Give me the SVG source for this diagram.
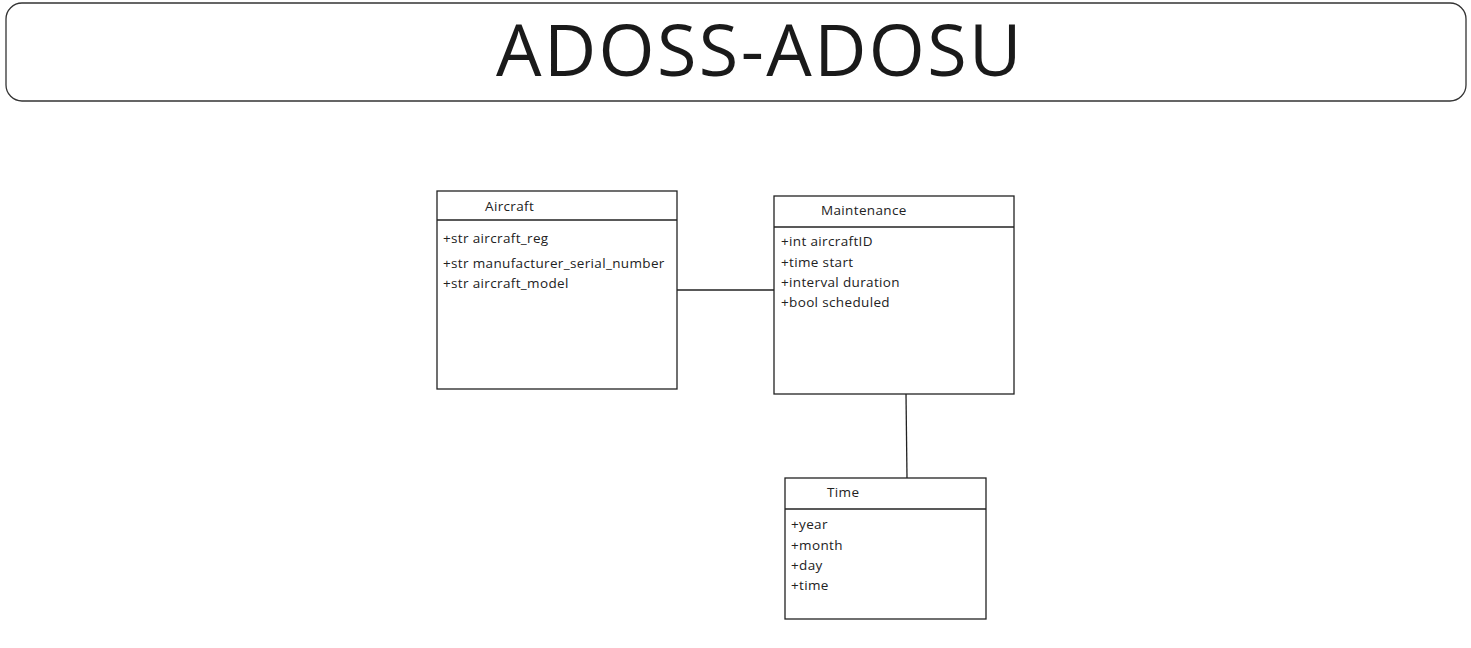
<svg xmlns="http://www.w3.org/2000/svg" width="1471" height="648" viewBox="0 0 1471 648">
<style>
.box{fill:#fff;stroke:#222;stroke-width:1.3}
.div{stroke:#222;stroke-width:1.3}
.t{font-family:"Open Sans","Liberation Sans",sans-serif;font-size:13.5px;letter-spacing:0.35px;fill:#222}
.title{font-family:"Open Sans","Liberation Sans",sans-serif;font-size:72px;letter-spacing:2.4px;fill:#1a1a1a;text-anchor:middle}
.conn{stroke:#222;stroke-width:1.3;fill:none}
</style>
<rect width="1471" height="648" fill="#fff"/>
<g id="title">
<rect x="6" y="3" width="1460" height="98" rx="16" ry="16" fill="#fff" stroke="#333" stroke-width="1.3"/>
<text class="title" x="760" y="76">ADOSS-ADOSU</text>
</g>
<g id="connectors">
<line class="conn" x1="677" y1="290" x2="774" y2="290"/>
<line class="conn" x1="906" y1="394" x2="907" y2="478"/>
</g>
<g id="aircraft">
<rect class="box" x="437" y="191" width="240" height="198"/>
<line class="div" x1="437" y1="220" x2="677" y2="220"/>
<text class="t" x="485" y="211">Aircraft</text>
<text class="t" x="443" y="243">+str aircraft_reg</text>
<text class="t" x="443" y="268">+str manufacturer_serial_number</text>
<text class="t" x="443" y="288">+str aircraft_model</text>
</g>
<g id="maintenance">
<rect class="box" x="774" y="196" width="240" height="198"/>
<line class="div" x1="774" y1="227" x2="1014" y2="227"/>
<text class="t" x="821" y="215">Maintenance</text>
<text class="t" x="781" y="246">+int aircraftID</text>
<text class="t" x="781" y="267">+time start</text>
<text class="t" x="781" y="287">+interval duration</text>
<text class="t" x="781" y="307">+bool scheduled</text>
</g>
<g id="time">
<rect class="box" x="785" y="478" width="201" height="141"/>
<line class="div" x1="785" y1="509" x2="986" y2="509"/>
<text class="t" x="827" y="497">Time</text>
<text class="t" x="791" y="529">+year</text>
<text class="t" x="791" y="550">+month</text>
<text class="t" x="791" y="570">+day</text>
<text class="t" x="791" y="590">+time</text>
</g>
</svg>
